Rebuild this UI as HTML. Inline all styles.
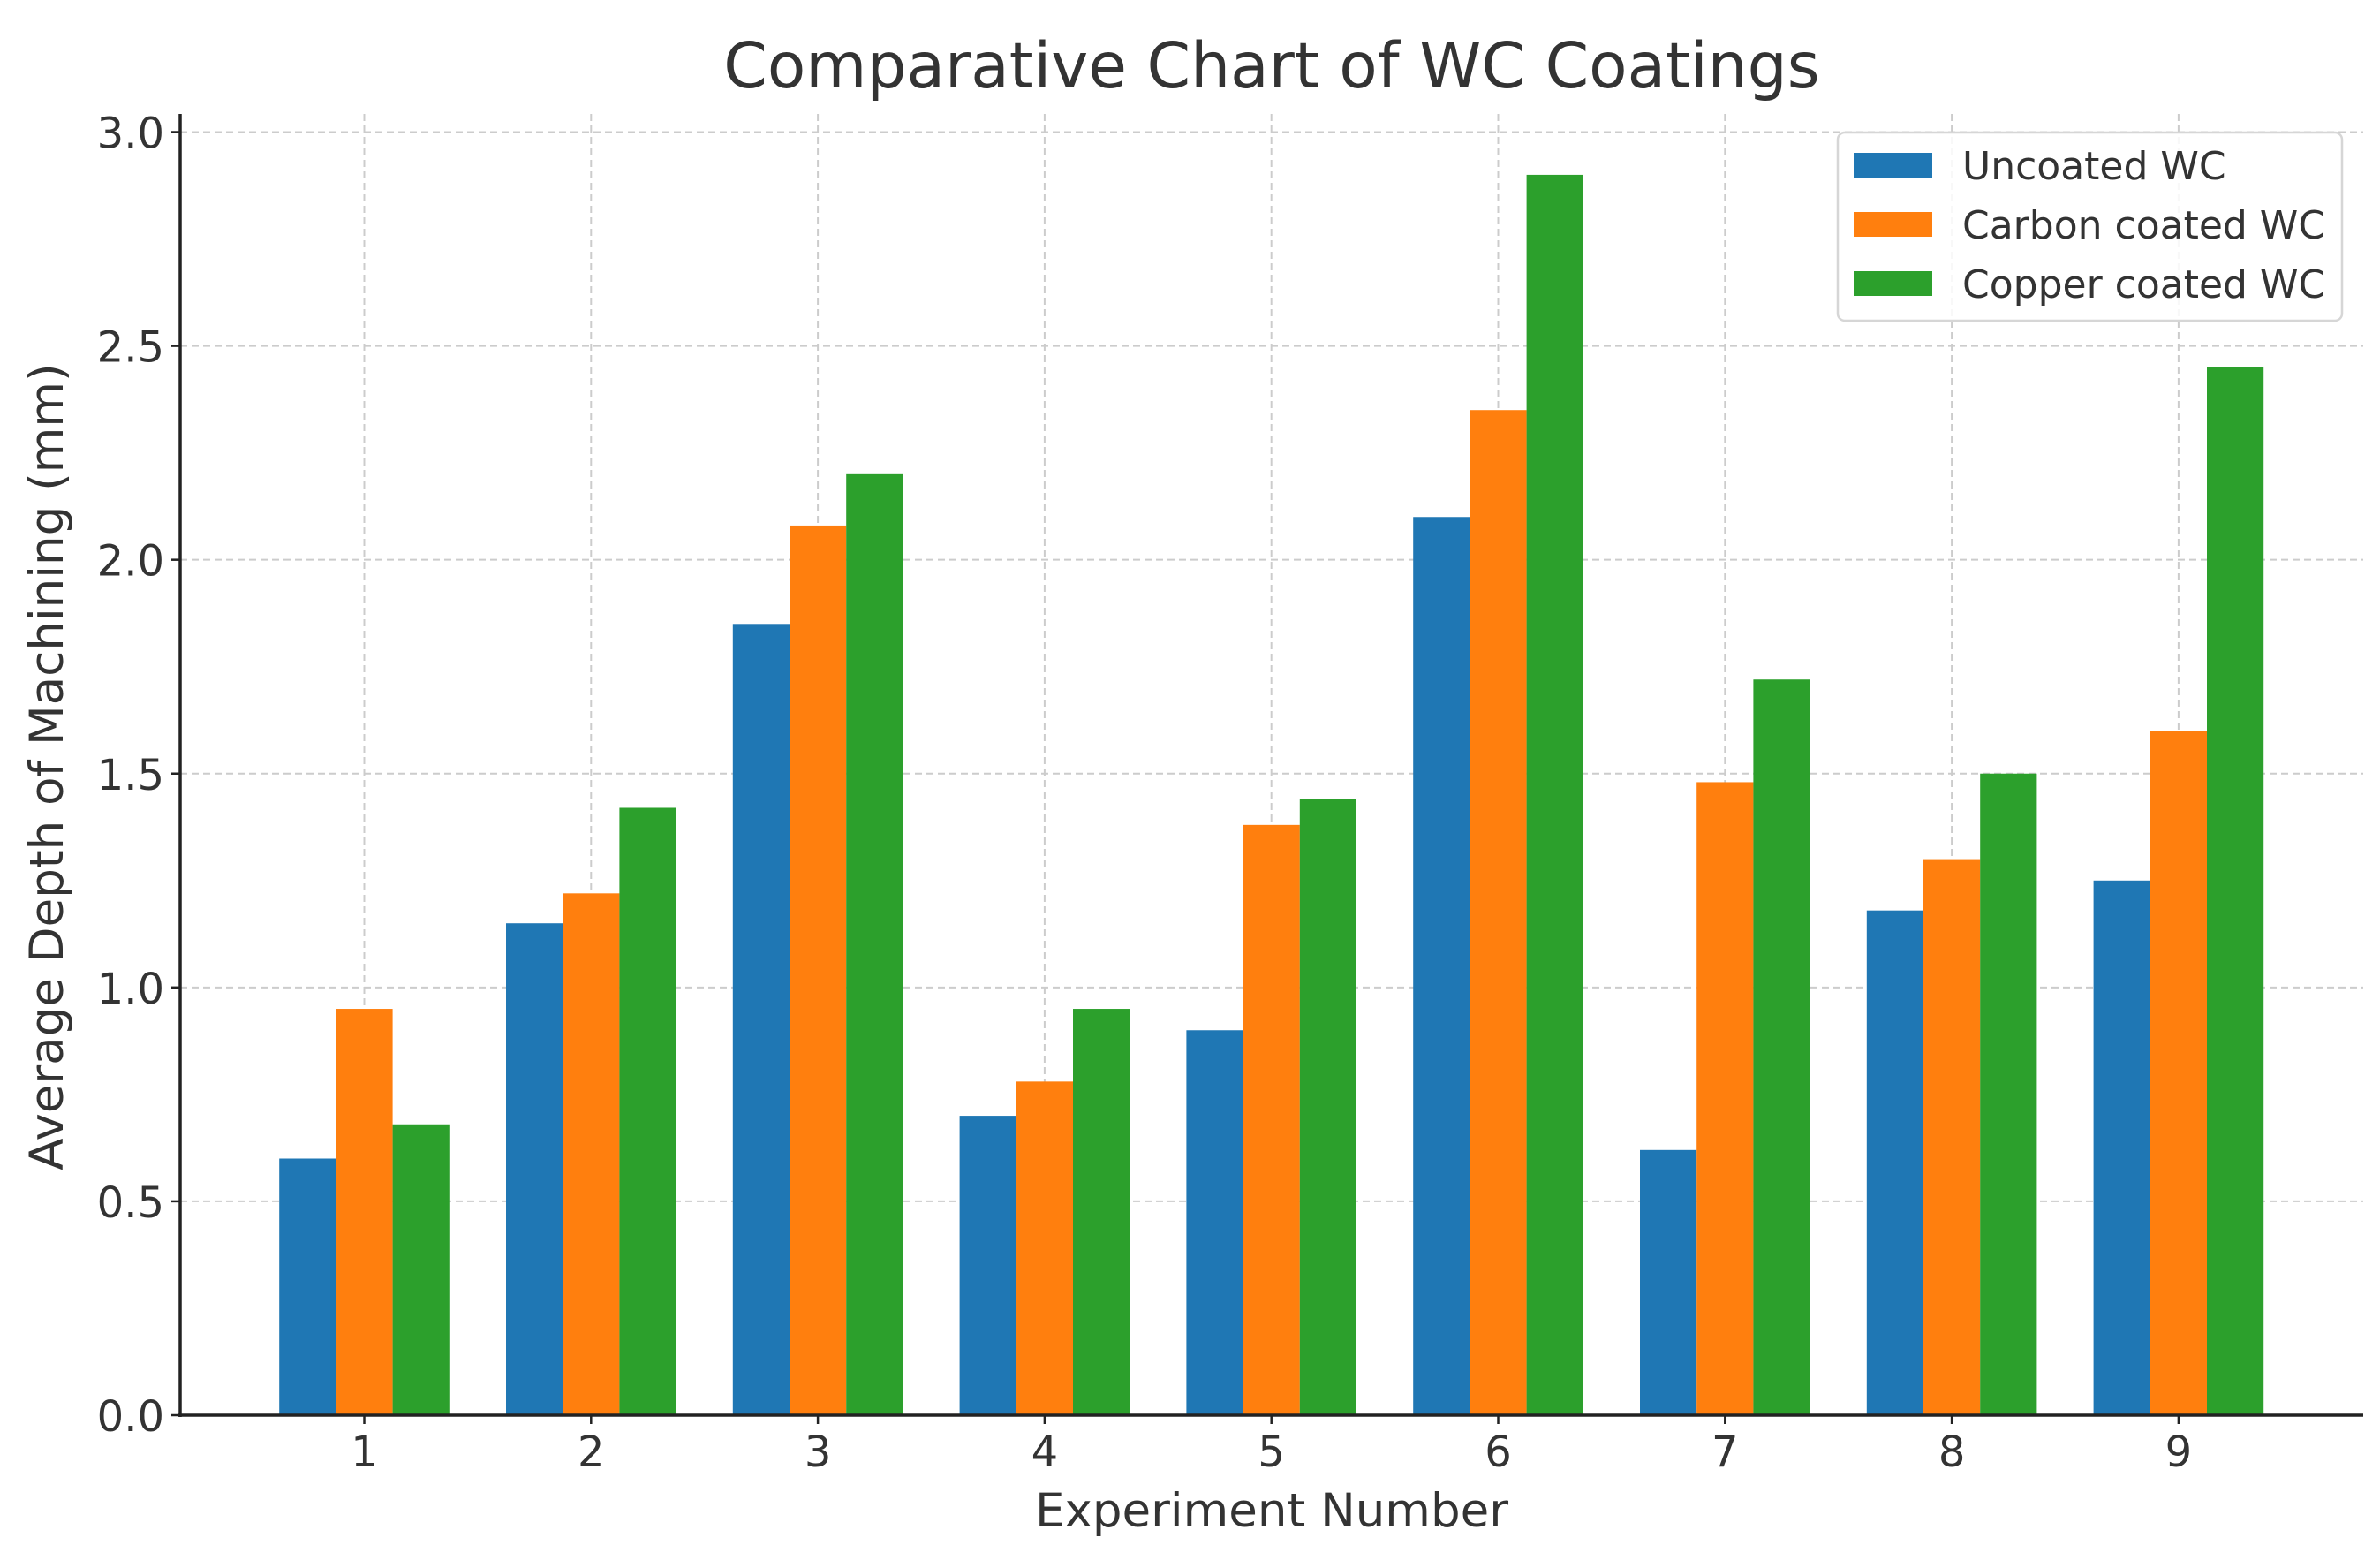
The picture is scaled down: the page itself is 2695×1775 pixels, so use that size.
<!DOCTYPE html>
<html><head><meta charset="utf-8"><style>
html,body{margin:0;padding:0;background:#fff;}
svg{display:block;font-family:"DejaVu Sans","Liberation Sans",sans-serif;}
</style></head><body>
<svg id="chart" width="2695" height="1775" viewBox="0 0 2695 1775" xmlns="http://www.w3.org/2000/svg">
<rect width="2695" height="1775" fill="#fff"/>
<g id="grid"></g>
<g id="bars"></g>
<g id="axes"></g>
<text x="1440" y="99" font-size="71" fill="#333" text-anchor="middle">Comparative Chart of WC Coatings</text>
<text x="1440" y="1728" font-size="53" fill="#333" text-anchor="middle">Experiment Number</text>
<text transform="translate(71,868) rotate(-90)" font-size="53" fill="#333" text-anchor="middle">Average Depth of Machining (mm)</text>
<g id="legend"></g>
</svg>
<script>
const categories = ["1","2","3","4","5","6","7","8","9"];
const seriesNames = ["Uncoated WC","Carbon coated WC","Copper coated WC"];
const uncoated = [0.60,1.15,1.85,0.70,0.90,2.10,0.62,1.18,1.25];
const carbon = [0.95,1.22,2.08,0.78,1.38,2.35,1.48,1.30,1.60];
const copper = [0.68,1.42,2.20,0.95,1.44,2.90,1.72,1.50,2.45];
const yTicks = [0.0,0.5,1.0,1.5,2.0,2.5,3.0];

const NS="http://www.w3.org/2000/svg";
const colors=["#1f77b4","#ff7f0e","#2ca02c"];
const series=[uncoated,carbon,copper];
const L=204,R=2676,T=129,B=1602;
const x0=412.5,step=256.8,bw=step*0.25;
function X(i){return x0+i*step;}
function Y(v){return B-(v/3.0)*(B-149.5);}
function mk(tag,attrs,parent){const e=document.createElementNS(NS,tag);for(const k in attrs)e.setAttribute(k,attrs[k]);parent.appendChild(e);return e;}
const grid=document.getElementById('grid'),bars=document.getElementById('bars'),axes=document.getElementById('axes'),legend=document.getElementById('legend');
yTicks.forEach(v=>{
  const y=Y(v);
  if(v>0){const g=mk('line',{x1:L,x2:R,y1:y,y2:y,stroke:'#cccccc','stroke-width':2,'stroke-dasharray':'8,5'},grid);
  
  }
  const tk=mk('line',{x1:L-10,x2:L,y1:y,y2:y,stroke:'#222','stroke-width':2.5},axes);
  
  
  const t=mk('text',{x:L-18,y:y+18,'font-size':48,fill:'#333','text-anchor':'end'},axes);
  t.textContent=v.toFixed(1);
  
  
});
categories.forEach((c,i)=>{
  const x=X(i);
  const g=mk('line',{x1:x,x2:x,y1:T,y2:B,stroke:'#cccccc','stroke-width':2,'stroke-dasharray':'8,5'},grid);
  
  
  series.forEach((s,k)=>{
    const y=Y(s[i]);
    const r=mk('rect',{x:x+(k-1.5)*bw,y:y,width:bw,height:B-y,fill:colors[k]},bars);
    
    
  });
  const tk=mk('line',{x1:x,x2:x,y1:B,y2:B+10,stroke:'#222','stroke-width':2.5},axes);
  
  
  const t=mk('text',{x:x,y:1660,'font-size':48,fill:'#333','text-anchor':'middle'},axes);
  t.textContent=c;
  
  
});
const ly=mk('line',{x1:L,x2:L,y1:T,y2:B+2,stroke:'#222','stroke-width':3.5},axes);


const lx=mk('line',{x1:L-2,x2:R,y1:B,y2:B,stroke:'#222','stroke-width':3.5},axes);


const box=mk('rect',{x:2081,y:150,width:571,height:213,rx:8,fill:'#fff','fill-opacity':0.85,stroke:'#d6d6d6','stroke-width':2.5},legend);


seriesNames.forEach((n,k)=>{
  const cy=187+k*67;
  const p=mk('rect',{x:2099,y:cy-14,width:89,height:28,fill:colors[k]},legend);
  
  
  const t=mk('text',{x:2222,y:cy+16,'font-size':44,fill:'#333'},legend);
  t.textContent=n;
  
  
});
</script>
</body></html>
